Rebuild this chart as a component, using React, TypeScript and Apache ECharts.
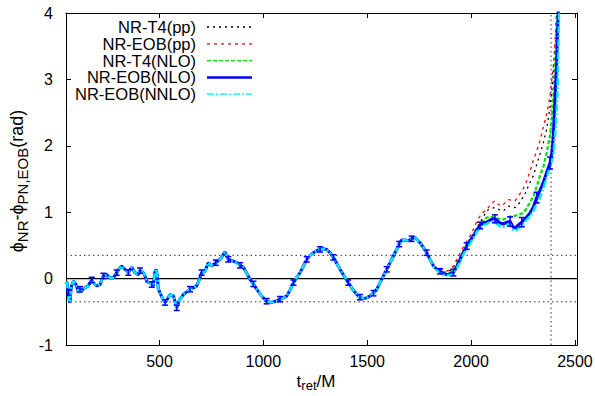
import { useEffect, useRef } from "react";
import * as echarts from "echarts";

const FONT = '"Liberation Sans", Arial, sans-serif';

// x range and ticks
const xMin = 50;
const xMax = 2510;
const xTicks = [500, 1000, 1500, 2000, 2500];
const yMin = -1;
const yMax = 4;

// reference lines
const hRefLevels = [0.35, -0.35];
const vRefT = 2385;

// phase difference shared by all five curves (they overlap up to t ~ 1820)
const sharedPhase: [number, number][] = [
  [50, -0.05], [55, -0.06], [61, -0.21], [66, -0.33], [69, -0.36], [73, -0.2], [77, -0.11], [85, -0.04], [93, -0.06], [101, -0.11],
  [109, -0.21], [117, -0.16], [125, -0.19], [133, -0.15], [141, -0.14], [157, -0.11], [166, -0.06], [174, -0.02], [181, -0.06], [190, -0.09],
  [198, -0.11], [214, -0.09], [222, -0.02], [230, 0.04], [246, 0.06], [262, 0.01], [278, 0.01], [294, 0.09], [306, 0.15], [318, 0.19],
  [334, 0.14], [350, 0.09], [366, 0.17], [382, 0.09], [398, 0.06], [406, 0.12], [414, 0.11], [422, 0.09], [430, 0.04], [438, -0.04],
  [446, -0.06], [454, -0.06], [463, -0.09], [470, -0.11], [478, 0.1], [483, 0.14], [490, 0.04], [494, -0.15], [502, -0.21], [515, -0.3],
  [527, -0.36], [540, -0.3], [551, -0.24], [567, -0.26], [575, -0.35], [583, -0.44], [591, -0.36], [599, -0.31], [615, -0.24], [631, -0.2],
  [647, -0.16], [663, -0.14], [679, -0.11], [691, -0.02], [703, 0.09], [719, 0.11], [735, 0.24], [751, 0.19], [771, 0.24], [791, 0.29],
  [805, 0.35], [815, 0.4], [823, 0.35], [831, 0.29], [850, 0.27], [872, 0.24], [888, 0.2], [904, 0.17], [920, 0.08], [936, -0.01],
  [952, -0.08], [968, -0.16], [984, -0.23], [1000, -0.29], [1016, -0.34], [1032, -0.36], [1050, -0.35], [1065, -0.33], [1080, -0.31], [1096, -0.29],
  [1113, -0.26], [1129, -0.17], [1145, -0.06], [1161, 0.02], [1177, 0.09], [1193, 0.19], [1209, 0.29], [1225, 0.35], [1241, 0.39], [1257, 0.42],
  [1273, 0.44], [1289, 0.45], [1305, 0.44], [1321, 0.39], [1337, 0.32], [1353, 0.23], [1369, 0.14], [1389, 0.04], [1409, -0.06], [1430, -0.16],
  [1450, -0.24], [1465, -0.28], [1481, -0.3], [1497, -0.29], [1514, -0.26], [1530, -0.22], [1546, -0.16], [1562, -0.06], [1578, 0.04], [1594, 0.14],
  [1610, 0.24], [1626, 0.34], [1642, 0.44], [1654, 0.52], [1666, 0.58], [1682, 0.58], [1698, 0.57], [1714, 0.6], [1730, 0.62], [1742, 0.58],
  [1754, 0.54], [1770, 0.47], [1786, 0.39], [1802, 0.29], [1819, 0.19],
];

// late parts where the curves separate
const t4ppLate: [number, number][] = [
  [1835, 0.16], [1851, 0.13], [1867, 0.1], [1883, 0.09], [1899, 0.12], [1915, 0.16], [1931, 0.25], [1947, 0.34], [1963, 0.43], [1979, 0.52],
  [1995, 0.6], [2011, 0.68], [2027, 0.76], [2043, 0.84], [2059, 0.93], [2075, 1.02], [2091, 1.05], [2115, 1.07], [2135, 1.04], [2155, 1.02],
  [2180, 1.09], [2196, 1.08], [2212, 1.07], [2236, 1.15], [2260, 1.28], [2284, 1.45], [2300, 1.55], [2316, 1.72], [2332, 1.88], [2348, 2.05],
  [2364, 2.25], [2380, 2.58], [2388, 2.8], [2396, 3.1], [2404, 3.45], [2416, 4.05],
];
const eobppLate: [number, number][] = [
  [1835, 0.17], [1851, 0.14], [1867, 0.12], [1883, 0.11], [1899, 0.14], [1915, 0.19], [1931, 0.29], [1947, 0.38], [1963, 0.48], [1979, 0.56],
  [1995, 0.64], [2011, 0.74], [2027, 0.86], [2043, 0.94], [2059, 1.0], [2075, 1.04], [2091, 1.1], [2105, 1.15], [2115, 1.17], [2131, 1.12],
  [2147, 1.09], [2163, 1.14], [2180, 1.19], [2196, 1.18], [2212, 1.17], [2236, 1.28], [2252, 1.36], [2268, 1.47], [2284, 1.62], [2300, 1.78],
  [2316, 1.92], [2332, 2.08], [2348, 2.28], [2364, 2.48], [2372, 2.6], [2380, 2.75], [2396, 3.2], [2404, 3.55], [2412, 4.05],
];
const t4nloLate: [number, number][] = [
  [1835, 0.15], [1851, 0.12], [1867, 0.09], [1883, 0.07], [1899, 0.09], [1915, 0.13], [1931, 0.21], [1947, 0.31], [1963, 0.41], [1979, 0.51],
  [1995, 0.59], [2011, 0.66], [2027, 0.73], [2043, 0.79], [2059, 0.87], [2075, 0.92], [2091, 0.93], [2115, 0.92], [2135, 0.9], [2155, 0.89],
  [2180, 0.93], [2204, 0.94], [2228, 0.96], [2252, 0.99], [2268, 1.06], [2284, 1.15], [2300, 1.24], [2316, 1.38], [2332, 1.55], [2348, 1.68],
  [2364, 1.9], [2380, 2.15], [2388, 2.4], [2396, 2.75], [2404, 3.2], [2418, 4.05],
];
const eobnloLate: [number, number][] = [
  [1835, 0.14], [1851, 0.11], [1867, 0.08], [1883, 0.06], [1899, 0.07], [1915, 0.09], [1931, 0.18], [1947, 0.29], [1963, 0.39], [1979, 0.49],
  [1995, 0.57], [2011, 0.64], [2027, 0.73], [2043, 0.8], [2059, 0.84], [2075, 0.85], [2091, 0.88], [2105, 0.9], [2115, 0.9], [2123, 0.88],
  [2139, 0.84], [2155, 0.82], [2172, 0.85], [2188, 0.86], [2204, 0.77], [2212, 0.76], [2228, 0.81], [2244, 0.85], [2260, 0.9], [2284, 0.99],
  [2300, 1.08], [2316, 1.22], [2332, 1.33], [2348, 1.45], [2364, 1.6], [2380, 1.74], [2390, 1.92], [2396, 2.15], [2404, 2.7], [2412, 3.25],
  [2420, 4.05],
];
const eobnnloLate: [number, number][] = [
  [1835, 0.12], [1851, 0.09], [1867, 0.06], [1883, 0.05], [1899, 0.05], [1915, 0.07], [1931, 0.15], [1947, 0.25], [1963, 0.36], [1979, 0.45],
  [1995, 0.53], [2011, 0.61], [2027, 0.7], [2043, 0.77], [2059, 0.81], [2075, 0.82], [2091, 0.85], [2115, 0.86], [2131, 0.8], [2155, 0.78],
  [2172, 0.81], [2188, 0.82], [2204, 0.73], [2220, 0.73], [2244, 0.8], [2260, 0.86], [2284, 0.94], [2300, 1.02], [2316, 1.13], [2332, 1.22],
  [2348, 1.36], [2364, 1.52], [2380, 1.68], [2396, 1.85], [2408, 2.3], [2416, 2.8], [2424, 4.05],
];

// error bars on NR-EOB(NLO): [t, half height]
const errorBars: [number, number][] = [
  [61, 0.04], [117, 0.04], [174, 0.04], [230, 0.04], [294, 0.04], [350, 0.04], [406, 0.04], [463, 0.04], [527, 0.04], [583, 0.04],
  [647, 0.04], [703, 0.04], [771, 0.04], [831, 0.04], [888, 0.04], [952, 0.04], [1016, 0.04], [1080, 0.04], [1145, 0.04], [1209, 0.04],
  [1273, 0.04], [1337, 0.04], [1409, 0.04], [1465, 0.04], [1530, 0.04], [1594, 0.04], [1654, 0.04], [1714, 0.04], [1786, 0.04], [1851, 0.04],
  [1915, 0.05], [1979, 0.05], [2043, 0.05], [2115, 0.06], [2188, 0.07], [2244, 0.07], [2316, 0.08], [2380, 0.09],
];

const seriesNames = ["NR-T4(pp)", "NR-EOB(pp)", "NR-T4(NLO)", "NR-EOB(NLO)", "NR-EOB(NNLO)"];
const seriesLate = [t4ppLate, eobppLate, t4nloLate, eobnloLate, eobnnloLate];
const seriesColors = ["#000000", "#ff0000", "#00e000", "#0000ff", "#00e8ff"];
const seriesWidths = [1.3, 1.3, 2.2, 3, 2.5];
const seriesDashes: (number[] | "solid")[] = [[2, 4], [3, 4], [4, 2], "solid", [7, 2, 2, 2]];

export default function App() {
  const ref = useRef<HTMLDivElement>(null);
  useEffect(() => {
    const chart = echarts.init(ref.current!, null, { renderer: "svg" });

    const fullData = seriesLate.map((late) => [...sharedPhase, ...late]);
    const blueMap = new Map<number, number>();
    fullData[3].forEach(([t, y]) => blueMap.set(t, y));
    const errData = errorBars
      .filter(([t]) => blueMap.has(t))
      .map(([t, h]) => [t, blueMap.get(t) as number, h]);

    const axisLine = { show: true, onZero: false, lineStyle: { color: "#000", width: 1 } };
    const tickStyle = { color: "#000", width: 1 };
    const labelStyle = { fontSize: 16, fontFamily: FONT, color: "#000" };

    const refSeries: any[] = [
      {
        type: "line",
        data: [[xMin, 0], [xMax, 0]],
        symbol: "none",
        silent: true,
        lineStyle: { color: "#000", width: 1.3, type: "solid" },
        z: 1,
      },
      ...hRefLevels.map((lv) => ({
        type: "line",
        data: [[xMin, lv], [xMax, lv]],
        symbol: "none",
        silent: true,
        lineStyle: { color: "#333", width: 1, type: [1.5, 3] },
        z: 1,
      })),
      {
        type: "line",
        data: [[vRefT, yMin], [vRefT, yMax]],
        symbol: "none",
        silent: true,
        lineStyle: { color: "#333", width: 1, type: [1.5, 3] },
        z: 1,
      },
    ];

    const curveSeries = seriesNames.map((name, i) => ({
      type: "line",
      name,
      data: fullData[i],
      symbol: "none",
      showSymbol: false,
      silent: true,
      clip: true,
      lineStyle: { color: seriesColors[i], width: seriesWidths[i], type: seriesDashes[i] },
      itemStyle: { color: seriesColors[i] },
      z: 2 + i,
    }));

    const errSeries = {
      type: "custom",
      name: "errorbars",
      data: errData,
      encode: { x: 0, y: 1 },
      clip: true,
      silent: true,
      z: 10,
      renderItem: (_params: any, api: any) => {
        const t = api.value(0);
        const y = api.value(1);
        const h = api.value(2);
        const p1 = api.coord([t, y + h]);
        const p2 = api.coord([t, y - h]);
        const c = 3;
        const st = { stroke: "#0000ff", lineWidth: 1.5 };
        return {
          type: "group",
          children: [
            { type: "line", shape: { x1: p1[0], y1: p1[1], x2: p2[0], y2: p2[1] }, style: st },
            { type: "line", shape: { x1: p1[0] - c, y1: p1[1], x2: p1[0] + c, y2: p1[1] }, style: st },
            { type: "line", shape: { x1: p2[0] - c, y1: p2[1], x2: p2[0] + c, y2: p2[1] }, style: st },
          ],
        };
      },
    };

    const legendGraphics: any[] = [];
    seriesNames.forEach((name, i) => {
      const y = 27 + 16.8 * i;
      legendGraphics.push({
        type: "text",
        x: 196,
        y,
        style: {
          text: name,
          fill: "#000",
          fontSize: 16.5,
          fontFamily: FONT,
          align: "right",
          verticalAlign: "middle",
        },
        z: 100,
      });
      const dash = seriesDashes[i];
      legendGraphics.push({
        type: "line",
        shape: { x1: 207, y1: y, x2: 252, y2: y },
        style: {
          stroke: seriesColors[i],
          lineWidth: i === 3 ? 2.5 : 1.3,
          lineDash: dash === "solid" ? null : dash,
        },
        z: 100,
      });
    });

    const option: any = {
      animation: false,
      backgroundColor: "#ffffff",
      grid: { left: 66, right: 18, top: 13, bottom: 51, containLabel: false, outerBoundsMode: "none" },
      xAxis: [
        {
          type: "value",
          min: xMin,
          max: xMax,
          position: "bottom",
          axisLine,
          axisTick: { show: true, inside: true, length: 5, customValues: xTicks, lineStyle: tickStyle },
          axisLabel: { ...labelStyle, margin: 8, customValues: xTicks, formatter: (v: number) => String(v) },
          splitLine: { show: false },
        },
        {
          type: "value",
          min: xMin,
          max: xMax,
          position: "top",
          axisLine,
          axisTick: { show: true, inside: true, length: 5, customValues: xTicks, lineStyle: tickStyle },
          axisLabel: { show: false },
          splitLine: { show: false },
        },
      ],
      yAxis: [
        {
          type: "value",
          min: yMin,
          max: yMax,
          interval: 1,
          position: "left",
          axisLine,
          axisTick: { show: true, inside: true, length: 5, lineStyle: tickStyle },
          axisLabel: { ...labelStyle, margin: 13, showMinLabel: true, showMaxLabel: true, formatter: (v: number) => String(v) },
          splitLine: { show: false },
        },
        {
          type: "value",
          min: yMin,
          max: yMax,
          interval: 1,
          position: "right",
          axisLine,
          axisTick: { show: true, inside: true, length: 5, lineStyle: tickStyle },
          axisLabel: { show: false },
          splitLine: { show: false },
        },
      ],
      graphic: [
        ...legendGraphics,
        {
          type: "text",
          x: 316,
          y: 381,
          style: {
            text: "{m|t}{s|ret}{m|/M}",
            fill: "#000",
            align: "center",
            verticalAlign: "middle",
            rich: {
              m: { fontSize: 17, fontFamily: FONT, fill: "#000" },
              s: { fontSize: 13, fontFamily: FONT, fill: "#000", padding: [9, 0, 0, 0] },
            },
          },
        },
        {
          type: "text",
          x: 17,
          y: 181,
          rotation: Math.PI / 2,
          style: {
            text: "{m|ϕ}{s|NR}{m|-ϕ}{s|PN,EOB}{m|(rad)}",
            fill: "#000",
            align: "center",
            verticalAlign: "middle",
            rich: {
              m: { fontSize: 18, fontFamily: FONT, fill: "#000" },
              s: { fontSize: 15, fontFamily: FONT, fill: "#000", padding: [10, 0, 0, 0] },
            },
          },
        },
      ],
      series: [...refSeries, ...curveSeries, errSeries],
    };

    chart.setOption(option);
    return () => chart.dispose();
  }, []);

  return (
    <div
      ref={ref}
      style={{ position: "absolute", left: 0, top: 0, width: 595, height: 396 }}
    />
  );
}
